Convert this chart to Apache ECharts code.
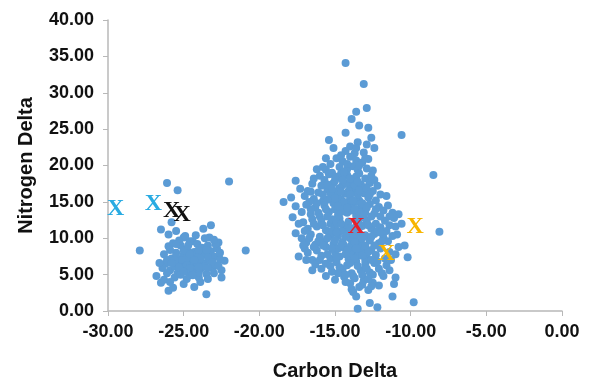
<!DOCTYPE html>
<html>
<head>
<meta charset="utf-8">
<script src="https://cdn.jsdelivr.net/npm/echarts@6/dist/echarts.min.js"></script>
<style>html,body{margin:0;padding:0;background:#fff}#c{width:602px;height:386px}</style>
</head>
<body>
<div id="c"></div>
<script>
// Axis ticks
const xTicks = [-30, -25, -20, -15, -10, -5, 0];
const yTicks = [0, 5, 10, 15, 20, 25, 30, 35, 40];

// Left cluster (Carbon, Nitrogen)
const clusterA = [
[-26.1,17.6],[-25.4,16.6],[-22.0,17.8],[-27.9,8.3],[-20.9,8.3],[-26.5,11.2],[-26.0,10.5],[-25.5,11.0],[-25.8,12.2],
[-23.7,11.3],[-23.2,11.8],[-23.3,10.1],[-22.7,9.4],[-25.0,10.1],[-24.4,9.6],
[-26.8,4.8],[-26.5,3.9],[-26.0,2.8],[-23.5,2.3],[-22.5,4.6],[-24.3,3.3],[-25.0,3.7],[-22.3,6.9],[-26.3,4.3],[-25.7,3.2],
[-24.8,4.4],[-23.9,4.0],[-23.0,5.2],
[-26.3,7.8],[-26.2,6.5],[-26.0,8.9],[-25.9,5.6],[-25.8,7.2],[-25.7,9.3],[-25.6,6.1],[-25.5,8.0],[-25.4,5.2],[-25.3,7.0],
[-25.2,9.0],[-25.1,6.4],[-25.0,7.7],[-24.9,5.7],[-24.8,8.5],[-24.7,6.8],[-24.6,9.6],[-24.5,7.4],[-24.4,5.4],[-24.3,8.1],
[-24.2,6.2],[-24.1,9.2],[-24.0,7.0],[-23.9,5.8],[-23.8,8.7],[-23.7,6.6],[-23.6,7.8],[-23.5,5.1],[-23.4,9.0],[-23.3,6.9],
[-23.2,8.2],[-23.1,5.9],[-23.0,7.5],[-22.9,6.3],[-22.8,8.6],[-22.6,7.1],[-22.5,5.6],[-25.6,4.6],[-24.6,4.9],[-24.0,4.6],
[-23.4,4.4],[-25.9,8.4],[-25.3,9.7],[-24.9,10.3],[-24.2,10.4],[-23.6,10.0],[-26.1,7.0],[-25.4,6.6],[-24.8,7.3],[-24.1,7.7],
[-23.4,7.4],[-22.9,9.2],[-25.0,6.0],[-24.4,6.4],[-23.8,6.0],[-23.1,6.7],[-26.4,5.9],[-25.2,5.0],[-24.0,5.3],[-22.7,6.2],
[-25.5,7.5],[-25.0,8.3],[-24.5,8.0],[-24.0,8.4],[-23.5,8.4],[-25.6,7.0],[-25.1,7.0],[-24.6,7.8],[-24.1,6.6],[-23.6,6.1],
[-23.9,7.2],[-24.3,7.0],[-24.8,6.3],[-25.3,6.0],[-25.8,6.6],[-24.6,5.9],[-24.0,6.0],[-23.4,5.9],[-25.0,5.4],[-24.4,4.9],
[-26.1,5.2],[-25.9,4.0],[-22.6,8.0],[-23.0,9.8],[-24.7,9.0],[-25.5,9.2],[-26.6,6.6]
];

// Right cluster (Carbon, Nitrogen)
const clusterB = [
[-14.3,34.1],[-13.1,31.2],[-12.9,27.9],[-13.6,27.4],[-13.9,26.4],[-13.4,25.5],[-12.8,25.2],[-14.3,24.5],[-15.4,23.5],
[-15.1,22.4],[-13.5,23.2],[-12.6,23.8],[-12.9,22.9],[-12.4,22.4],[-10.6,24.2],[-14.3,22.0],[-13.7,21.7],[-13.1,21.8],
[-14.9,21.0],[-14.5,20.6],[-14.0,21.2],[-13.6,20.7],[-13.2,20.4],[-12.8,20.9],[-14.7,19.8],[-14.2,19.5],[-13.8,19.9],
[-12.9,19.6],[-15.3,20.2],[-15.6,19.4],[-12.5,19.3],
[-17.6,17.9],[-16.2,19.5],[-16.0,18.6],[-15.7,18.0],[-15.4,18.8],[-15.1,17.6],[-14.8,18.4],[-14.5,17.3],[-14.2,18.7],
[-13.9,17.8],[-13.6,18.5],[-13.3,17.4],[-13.0,18.2],[-12.7,17.6],[-12.4,18.0],[-16.5,17.5],[-15.9,17.2],[-14.0,17.0],
[-12.2,17.2],[-14.6,18.9],[-13.4,18.9],
[-18.4,15.0],[-17.0,15.8],[-16.8,16.5],[-16.4,15.4],[-16.1,16.3],[-15.8,15.1],[-15.5,16.7],[-15.2,15.6],[-14.9,16.4],
[-14.6,15.3],[-14.3,16.1],[-14.0,15.5],[-13.7,16.6],[-13.4,15.2],[-13.1,16.2],[-12.8,15.6],[-12.5,16.5],[-12.3,15.2],
[-16.7,15.0],[-15.0,15.0],[-13.9,16.9],[-12.0,16.0],
[-17.6,14.4],[-17.8,12.9],[-17.2,13.6],[-16.9,14.6],[-16.6,13.3],[-16.3,14.2],[-16.0,13.0],[-15.7,14.5],[-15.4,13.6],
[-15.1,14.8],[-14.8,13.2],[-14.5,14.1],[-14.2,13.5],[-13.9,14.6],[-13.6,13.1],[-13.3,14.2],[-13.0,13.6],[-12.7,14.7],
[-12.4,13.4],[-12.1,14.3],[-11.8,13.8],[-11.5,14.5],[-11.2,13.5],[-10.8,13.3],
[-17.6,10.7],[-17.1,12.2],[-16.8,11.3],[-16.5,12.6],[-16.2,11.6],[-15.9,12.4],[-15.6,11.1],[-15.3,12.0],[-15.0,11.5],
[-14.7,12.7],[-14.4,11.2],[-14.1,12.3],[-13.8,11.0],[-13.5,12.5],[-13.2,11.7],[-12.9,12.4],[-12.6,11.3],[-12.3,12.0],
[-12.0,11.5],[-11.7,12.4],[-11.4,11.8],[-11.1,12.8],[-10.9,10.5],[-8.1,10.9],
[-17.2,10.0],[-16.9,9.4],[-16.6,10.5],[-16.3,9.1],[-16.0,10.2],[-15.7,9.6],[-15.4,10.8],[-15.1,9.2],[-14.8,10.3],
[-14.5,9.5],[-14.2,10.6],[-13.9,9.1],[-13.6,10.0],[-13.3,9.4],[-13.0,10.4],[-12.7,9.7],[-12.4,10.6],[-12.1,9.3],
[-11.8,10.1],[-11.5,9.6],[-11.2,10.3],
[-17.4,7.5],[-17.0,8.6],[-16.5,7.0],[-16.2,8.3],[-15.9,7.6],[-15.6,8.8],[-15.3,7.2],[-15.0,8.1],[-14.7,7.5],
[-14.4,8.7],[-14.1,7.1],[-13.8,8.2],[-13.5,7.6],[-13.2,8.9],[-12.9,7.3],[-12.6,8.4],[-12.3,7.7],[-12.0,8.6],
[-11.7,7.2],[-11.4,8.1],[-10.2,7.4],[-11.0,7.8],
[-15.9,5.8],[-15.6,6.5],[-15.2,5.4],[-14.9,6.7],[-14.5,5.7],[-14.2,6.3],[-13.9,5.2],[-13.6,6.8],[-13.3,5.6],
[-13.0,6.4],[-12.7,5.3],[-12.4,6.6],[-12.1,5.8],[-11.9,5.2],[-11.6,6.3],[-16.3,6.4],
[-15.6,4.8],[-15.0,4.3],[-14.4,4.7],[-14.0,3.8],[-13.7,4.5],[-13.8,2.6],[-13.4,3.3],[-13.1,4.2],[-12.8,2.9],
[-12.5,3.9],[-12.1,3.5],[-11.1,3.7],[-11.0,4.6],[-13.6,2.0],
[-13.5,0.3],[-12.7,1.1],[-12.2,0.5],[-11.2,2.0],[-9.8,1.2],[-8.5,18.7],
[-15.2,19.0],[-14.4,19.1],[-13.5,19.4],[-15.0,17.9],[-14.3,17.6],[-13.7,17.3],[-15.3,16.2],[-14.7,16.9],[-14.1,16.5],
[-13.5,16.0],[-15.5,15.3],[-14.8,15.7],[-14.2,14.8],[-13.6,15.0],[-15.0,14.0],[-14.6,13.6],[-13.9,13.8],[-13.4,13.6],
[-15.2,12.6],[-14.9,12.2],[-14.2,11.8],[-13.6,11.6],[-13.1,12.9],[-15.3,10.3],[-14.6,11.0],[-14.0,10.0],[-13.4,10.7],
[-15.0,9.7],[-14.4,9.0],[-13.7,9.4],[-13.1,8.4],[-14.8,8.6],[-14.0,8.0],[-13.4,7.9],[-12.8,8.1],[-13.0,6.9],
[-16.4,18.2],[-15.8,19.8],[-15.5,17.4],[-15.0,18.5],[-14.5,18.0],[-14.0,18.2],[-13.5,17.8],[-13.0,17.0],[-12.6,18.6],
[-15.8,16.0],[-15.2,16.8],[-14.6,16.4],[-14.0,16.0],[-13.4,16.6],[-12.9,16.8],[-12.7,16.0],[-16.2,14.8],[-15.6,14.0],
[-15.0,15.5],[-14.4,15.0],[-13.8,15.2],[-13.2,14.8],[-12.9,14.2],[-12.3,14.0],[-16.1,13.5],[-15.5,13.0],[-14.8,14.4],
[-14.2,14.2],[-13.7,14.0],[-13.1,13.2],[-12.6,13.0],[-12.0,13.0],[-16.4,12.0],[-15.8,11.8],[-15.2,11.0],[-14.6,12.0],
[-14.0,11.4],[-13.4,12.0],[-12.8,11.8],[-12.2,11.0],[-11.6,11.0],[-16.7,10.0],[-16.1,9.6],[-15.5,10.0],[-14.9,10.8],
[-14.3,10.2],[-13.8,10.6],[-13.2,10.0],[-12.6,10.2],[-12.0,10.8],[-16.8,8.0],[-16.4,8.8],[-15.8,9.0],[-15.2,8.6],
[-14.6,9.0],[-14.2,8.4],[-13.6,8.6],[-13.0,9.0],[-12.4,9.0],[-11.9,9.6],[-16.0,7.0],[-15.5,7.8],[-14.9,7.4],
[-14.3,7.8],[-13.7,7.2],[-13.2,7.6],[-12.6,7.0],[-12.2,6.8],[-15.3,6.2],[-14.7,6.0],[-14.0,6.6],[-13.5,6.2],
[-12.9,5.8],[-12.5,5.0],[-14.8,5.2],[-14.3,5.0],[-13.8,4.8],[-13.2,5.0],[-12.8,4.4],[-13.9,3.0],[-13.2,3.6],
[-12.6,3.4],[-14.3,4.0],[-11.8,4.8],[-11.4,5.6],[-14.2,20.2],[-13.4,20.0],[-13.0,21.0],[-14.6,21.4],[-14.0,22.6],
[-13.6,22.4],[-15.6,21.0],[-16.6,16.4],[-17.3,16.8],[-17.9,15.6],[-17.4,12.0],[-17.0,11.0],[-16.6,14.0],[-11.6,15.8],
[-11.4,13.0],[-11.0,11.6],[-10.6,12.0],[-10.4,9.0],[-10.8,8.8],[-11.3,7.0],[-16.9,7.0],[-16.5,5.6],[-17.1,9.0]
];

// "X" reference markers
const markersBlue = [[-29.5,14.1],[-27.0,14.8]];
const markersBlack = [[-25.8,13.8],[-25.1,13.2]];
const markersRed = [[-13.6,11.6]];
const markersOrange = [[-9.7,11.6],[-11.6,7.9]];

const axisFont = {fontFamily:'Liberation Sans, Arial, sans-serif', fontWeight:'bold', color:'#111'};

function xSeries(data, color){
  return {
    type:'scatter', data:data, symbol:'circle', symbolSize:0.01,
    itemStyle:{color:color, opacity:1},
    label:{show:true, position:'inside', formatter:'X', color:color, opacity:1,
      textBorderWidth:0, textBorderColor:'transparent', textShadowBlur:0,
      fontFamily:'Liberation Serif, Times New Roman, serif', fontSize:24, fontWeight:'bold'},
    labelLayout:{hideOverlap:false},
    emphasis:{disabled:true},
    z:10, zlevel:1, silent:true
  };
}

const chart = echarts.init(document.getElementById('c'));
chart.setOption({
  animation:false,
  grid:{left:108, right:40, top:20, bottom:74},
  xAxis:{
    type:'value', min:-30, max:0, interval:5,
    name:'Carbon Delta', nameLocation:'middle', nameGap:50,
    nameTextStyle:Object.assign({fontSize:20}, axisFont),
    axisLine:{onZero:false, lineStyle:{color:'#b8b8b8', width:1.5}},
    axisTick:{show:true, length:5, lineStyle:{color:'#b8b8b8'}},
    axisLabel:Object.assign({fontSize:18, margin:12, formatter:v=>v.toFixed(2)}, axisFont),
    splitLine:{show:false}
  },
  yAxis:{
    type:'value', min:0, max:40, interval:5,
    name:'Nitrogen Delta', nameLocation:'middle', nameGap:72, nameRotate:90,
    nameTextStyle:Object.assign({fontSize:20}, axisFont),
    axisLine:{show:true, onZero:false, lineStyle:{color:'#b8b8b8', width:1.5}},
    axisTick:{show:true, length:5, lineStyle:{color:'#b8b8b8'}},
    axisLabel:Object.assign({fontSize:18, margin:14, formatter:v=>v.toFixed(2)}, axisFont),
    splitLine:{show:false}
  },
  series:[
    {type:'scatter', data:clusterA, symbolSize:8, itemStyle:{color:'#5b9bd5', opacity:1}},
    {type:'scatter', data:clusterB, symbolSize:8, itemStyle:{color:'#5b9bd5', opacity:1}},
    xSeries(markersBlue, '#29abe2'),
    xSeries(markersBlack, '#111111'),
    xSeries(markersRed, '#e8202a'),
    xSeries(markersOrange, '#f7b500')
  ]
});
</script>
</body>
</html>
